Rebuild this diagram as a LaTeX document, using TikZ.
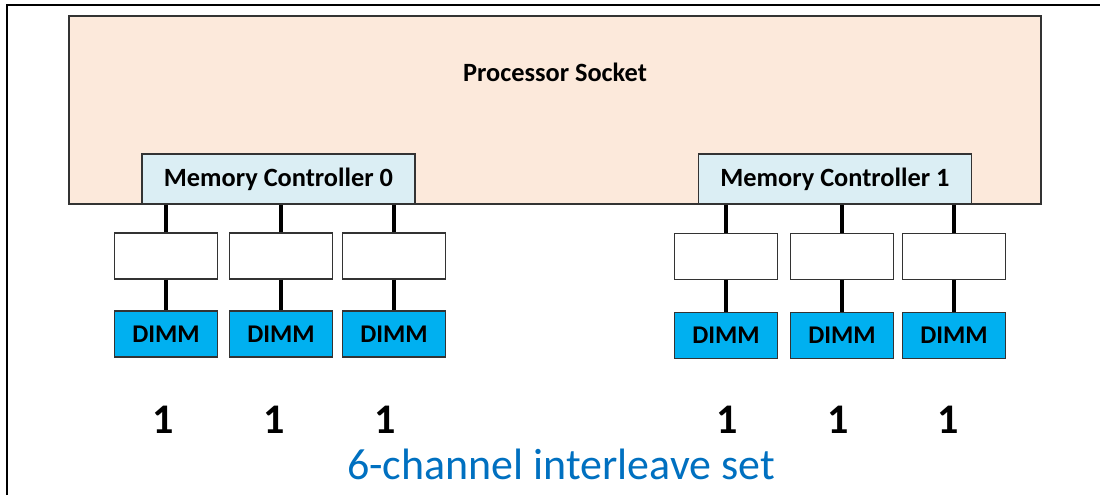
\documentclass[tikz,border=0pt]{standalone}
\usepackage{fontspec}
\setmainfont{Carlito}
\definecolor{socketfill}{HTML}{FCE9DB}
\definecolor{ctrlfill}{HTML}{DBEEF4}
\definecolor{dimmfill}{HTML}{00B0F0}
\definecolor{setblue}{HTML}{0070C0}
\begin{document}
\begin{tikzpicture}[x=0.02cm,y=-0.02cm,
  socket/.style={draw=black!80,line width=0.8pt,fill=socketfill,minimum width=19.44cm,minimum height=3.76cm,inner sep=0pt},
  ctrl/.style={draw=black!80,line width=0.8pt,fill=ctrlfill,minimum width=5.46cm,minimum height=1cm,inner sep=0pt,font=\bfseries\fontsize{15}{18}\selectfont},
  buf/.style={draw=black!80,line width=0.8pt,fill=white,minimum width=2.06cm,minimum height=0.92cm,inner sep=0pt},
  dimm/.style={buf,fill=dimmfill,font=\bfseries\fontsize{14.5}{17}\selectfont},
  num/.style={font=\bfseries\fontsize{24}{28}\selectfont},
  conn/.style={line width=2.2pt}]
\useasboundingbox (0,0) rectangle (1100,495);
\draw[line width=0.6pt] (7,495) -- (7,5) -- (1100,5);
\node[socket] (sock) at (555,110) {};
\node[font=\bfseries\fontsize{15}{18}\selectfont] (socklbl) at (555,72) {Processor Socket};
\node[ctrl] (mc0) at (278.5,179) {Memory Controller 0};
\node[ctrl] (mc1) at (835,179) {Memory Controller 1};
\foreach \i/\x/\n in {1/166/163,2/281/274,3/394/385}{
  \node[buf] (ba\i) at (\x,256) {};
  \node[dimm] (da\i) at (\x,334) {DIMM};
  \node[num] (na\i) at (\n,420) {1};
  \draw[conn] (ba\i.north) -- (ba\i.north |- mc0.south);
  \draw[conn] (ba\i.south) -- (da\i.north);
}
\foreach \i/\x/\n in {1/726/727,2/842/838,3/954/948}{
  \node[buf] (bb\i) at (\x,256.5) {};
  \node[dimm] (db\i) at (\x,335.5) {DIMM};
  \node[num] (nb\i) at (\n,420) {1};
  \draw[conn] (bb\i.north) -- (bb\i.north |- mc1.south);
  \draw[conn] (bb\i.south) -- (db\i.north);
}
\node[text=setblue,font=\fontsize{25}{30}\selectfont] (setlbl) at (561,464) {6-channel interleave set};
\end{tikzpicture}
\end{document}
